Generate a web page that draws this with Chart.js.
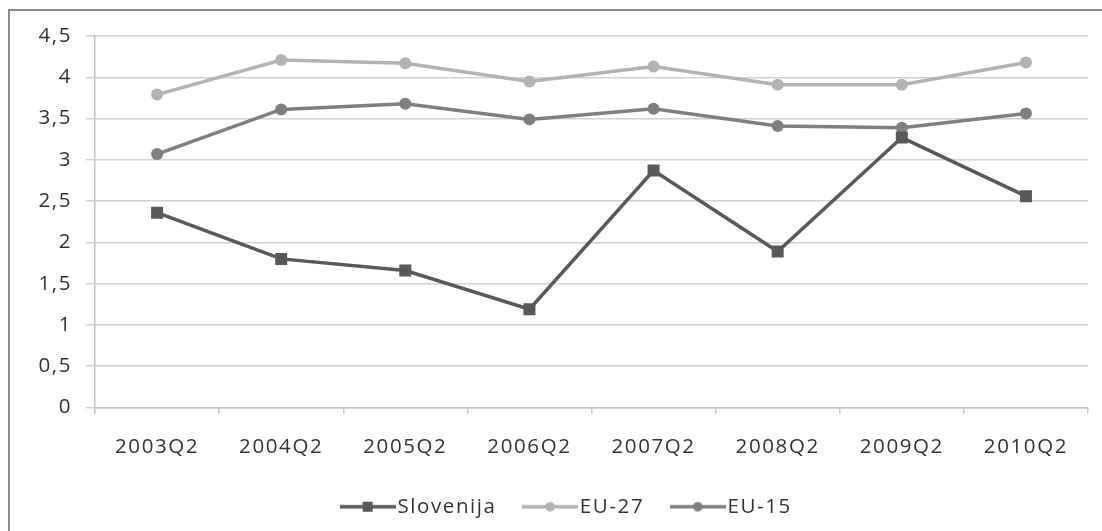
<!DOCTYPE html>
<html>
<head>
<meta charset="utf-8">
<script src="https://cdn.jsdelivr.net/npm/chart.js@4/dist/chart.umd.min.js"></script>
<style>
  html, body { margin: 0; padding: 0; background: #fff; overflow: hidden; width: 1102px; height: 531px; }
  #frame { position: absolute; left: 8px; top: 9px; width: 1200px; height: 700px; border: 2px solid #8c8c8c; }
  #wrap { position: absolute; left: 0; top: 0; width: 1102px; height: 527px; }
</style>
</head>
<body>
<div id="frame"></div>
<div id="wrap"><canvas id="chart" width="1102" height="527"></canvas></div>
<script>
const categories = ['2003Q2', '2004Q2', '2005Q2', '2006Q2', '2007Q2', '2008Q2', '2009Q2', '2010Q2'];
const slovenija = [2.36, 1.80, 1.66, 1.19, 2.87, 1.89, 3.27, 2.56];
const eu27 = [3.79, 4.21, 4.17, 3.95, 4.13, 3.91, 3.91, 4.18];
const eu15 = [3.07, 3.61, 3.68, 3.49, 3.62, 3.41, 3.39, 3.56];

const textColor = '#333333';
const gridColor = '#d2d2d2';
const axisColor = '#c4c4c4';
const colSlo = '#595959';
const col27 = '#b3b3b3';
const col15 = '#7f7f7f';

// legend icon: short line with the marker in the middle
function legendIcon(color, square) {
  const c = document.createElement('canvas');
  c.width = 56; c.height = 14;
  const g = c.getContext('2d');
  g.strokeStyle = color;
  g.lineWidth = 3.5;
  g.beginPath(); g.moveTo(0, 7); g.lineTo(56, 7); g.stroke();
  g.fillStyle = color;
  if (square) g.fillRect(23, 2, 10, 10);
  else { g.beginPath(); g.arc(28, 7, 4.8, 0, Math.PI * 2); g.fill(); }
  return c;
}
const icons = [legendIcon(colSlo, true), legendIcon(col27, false), legendIcon(col15, false)];

const spacing = {
  id: 'spacing',
  beforeLayout(chart) { chart.ctx.letterSpacing = '1.6px'; },
  // let the y labels draw left of the narrowed axis box without clipping
  afterLayout(chart) { chart.scales.y.left = 0; },
  beforeDraw(chart) { chart.ctx.letterSpacing = '1.6px'; }
};

Chart.defaults.font.family = '"Open Sans", sans-serif';
Chart.defaults.font.size = 20.5;
Chart.defaults.color = textColor;

new Chart(document.getElementById('chart'), {
  type: 'line',
  data: {
    labels: categories,
    datasets: [
      { label: 'Slovenija', data: slovenija, borderColor: colSlo, backgroundColor: colSlo,
        borderWidth: 3.5, pointStyle: 'rect', pointRadius: 8.5, pointBorderWidth: 0 },
      { label: 'EU-27', data: eu27, borderColor: col27, backgroundColor: col27,
        borderWidth: 3.5, pointStyle: 'circle', pointRadius: 6, pointBorderWidth: 0 },
      { label: 'EU-15', data: eu15, borderColor: col15, backgroundColor: col15,
        borderWidth: 3.5, pointStyle: 'circle', pointRadius: 6, pointBorderWidth: 0 }
    ]
  },
  options: {
    responsive: false,
    animation: false,
    layout: { padding: { left: 52, right: 14, top: 36, bottom: 0 } },
    elements: { line: { tension: 0 } },
    scales: {
      x: {
        offset: true,
        grid: { offset: true, drawOnChartArea: false, drawTicks: true, tickLength: 6, color: axisColor, lineWidth: 1.5 },
        border: { color: axisColor, width: 1.5 },
        ticks: { padding: 21, color: textColor, maxRotation: 0 },
        afterFit(s) { s.height = 55; }
      },
      y: {
        min: 0, max: 4.5,
        grid: { color: gridColor, lineWidth: 1.5, tickLength: 9 },
        border: { color: axisColor, width: 1.5 },
        ticks: {
          stepSize: 0.5, padding: 14, color: textColor,
          callback: (v) => String(v).replace('.', ',')
        },
        afterFit(s) { s.width = 43; }
      }
    },
    plugins: {
      tooltip: { enabled: false },
      legend: {
        position: 'bottom',
        labels: {
          usePointStyle: true,
          pointStyleWidth: 39,
          padding: 34,
          color: textColor,
          generateLabels(chart) {
            return Chart.defaults.plugins.legend.labels.generateLabels(chart).map((item, i) => {
              item.pointStyle = icons[i];
              return item;
            });
          }
        }
      }
    }
  },
  plugins: [spacing]
});
</script>
</body>
</html>
